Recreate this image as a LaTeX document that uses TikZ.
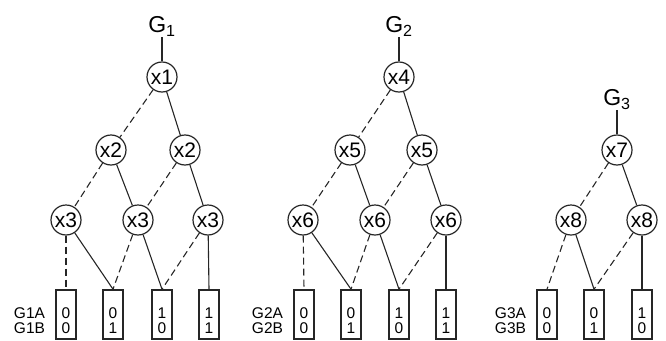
\documentclass[tikz,border=0pt]{standalone}
\usepackage{fontspec}
\setmainfont{Liberation Sans}
\usetikzlibrary{positioning}

\begin{document}
\begin{tikzpicture}[
    x=1pt, y=-1pt,
    node distance=24pt,
    var/.style={circle, draw=black!85, line width=1.2pt, minimum size=30pt, inner sep=0pt, font=\fontsize{21}{21}\selectfont},
    leaf/.style={rectangle, draw=black!85, line width=1.6pt, minimum width=20pt, inner sep=0pt, align=center, text height=43.5pt, text depth=5.5pt, font=\fontsize{15.5}{15.5}\selectfont},
    rowlabel/.style={align=left, inner sep=0pt, text height=43.5pt, text depth=5.5pt, font=\fontsize{15.5}{15.5}\selectfont},
    func/.style={inner sep=1pt, font=\fontsize{23}{23}\selectfont},
    hi/.style={line width=1.1pt, black!85},
    lo/.style={hi, dash pattern=on 7pt off 4pt},
    stem/.style={line width=1.7pt, black!85}
]
    \useasboundingbox (0,0) rectangle (666,340);

    % G1
    \node[var] (x1) at (162,77) {x1};
    \node[func, above=of x1] (g1) {G\textsubscript{1}};
    \node[var] (x2a) at (111,150) {x2};
    \node[var] (x2b) at (185,150) {x2};
    \node[var] (x3a) at (66,220) {x3};
    \node[var] (x3b) at (138,220) {x3};
    \node[var] (x3c) at (208,220) {x3};
    \node[leaf] (b11) at (66,314.5) {0\\0};
    \node[leaf] (b12) at (113,314.5) {0\\1};
    \node[leaf] (b13) at (162,314.5) {1\\0};
    \node[leaf] (b14) at (209,314.5) {1\\1};
    \node[rowlabel, left=10pt of b11] (l1) {G1A\\G1B};
    \draw[stem] (g1) -- (x1);
    \draw[lo] (x1) -- (x2a);
    \draw[hi] (x1) -- (x2b);
    \draw[lo] (x2a) -- (x3a);
    \draw[hi] (x2a) -- (x3b);
    \draw[lo] (x2b) -- (x3b);
    \draw[hi] (x2b) -- (x3c);
    \draw[lo] (x3a) -- (b11.north);
    \draw[hi] (x3a) -- (b12.north);
    \draw[lo] (x3b) -- (b12.north);
    \draw[hi] (x3b) -- (b13.north);
    \draw[lo] (x3c) -- (b13.north);
    \draw[hi] (x3c) -- (b14.north);

    % G2
    \node[var] (x4) at (399,77) {x4};
    \node[func, above=of x4] (g2) {G\textsubscript{2}};
    \node[var] (x5a) at (350,150) {x5};
    \node[var] (x5b) at (422,150) {x5};
    \node[var] (x6a) at (303,220) {x6};
    \node[var] (x6b) at (375,220) {x6};
    \node[var] (x6c) at (446,220) {x6};
    \node[leaf] (b21) at (304,314.5) {0\\0};
    \node[leaf] (b22) at (351,314.5) {0\\1};
    \node[leaf] (b23) at (399,314.5) {1\\0};
    \node[leaf] (b24) at (446,314.5) {1\\1};
    \node[rowlabel, left=10pt of b21] (l2) {G2A\\G2B};
    \draw[stem] (g2) -- (x4);
    \draw[lo] (x4) -- (x5a);
    \draw[hi] (x4) -- (x5b);
    \draw[lo] (x5a) -- (x6a);
    \draw[hi] (x5a) -- (x6b);
    \draw[lo] (x5b) -- (x6b);
    \draw[hi] (x5b) -- (x6c);
    \draw[lo] (x6a) -- (b21.north);
    \draw[hi] (x6a) -- (b22.north);
    \draw[lo] (x6b) -- (b22.north);
    \draw[hi] (x6b) -- (b23.north);
    \draw[lo] (x6c) -- (b23.north);
    \draw[hi] (x6c) -- (b24.north);

    % G3
    \node[var] (x7) at (617,150) {x7};
    \node[func, above=of x7] (g3) {G\textsubscript{3}};
    \node[var] (x8a) at (571,220) {x8};
    \node[var] (x8b) at (642,220) {x8};
    \node[leaf] (b31) at (547,314.5) {0\\0};
    \node[leaf] (b32) at (594,314.5) {0\\1};
    \node[leaf] (b33) at (642,314.5) {1\\0};
    \node[rowlabel, left=10pt of b31] (l3) {G3A\\G3B};
    \draw[stem] (g3) -- (x7);
    \draw[lo] (x7) -- (x8a);
    \draw[hi] (x7) -- (x8b);
    \draw[lo] (x8a) -- (b31.north);
    \draw[hi] (x8a) -- (b32.north);
    \draw[lo] (x8b) -- (b32.north);
    \draw[hi] (x8b) -- (b33.north);
\end{tikzpicture}
\end{document}
